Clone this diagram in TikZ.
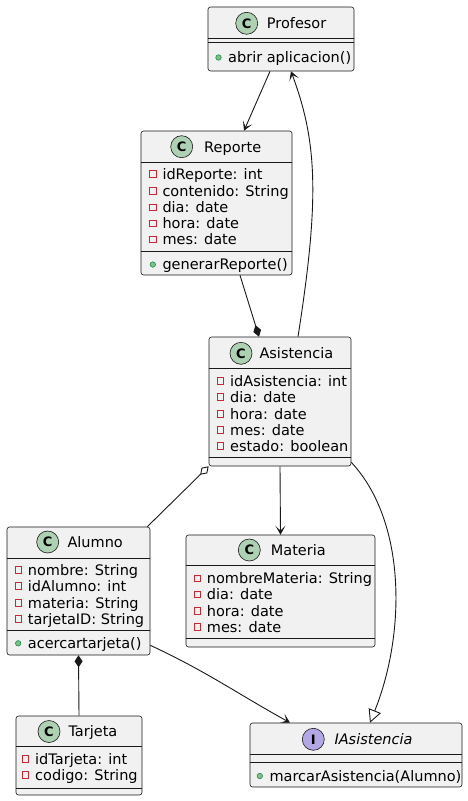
\documentclass[tikz,border=0pt]{standalone}
\usepackage{fontspec}
\setmainfont{DejaVu Sans}
\usetikzlibrary{arrows.meta}
\definecolor{linec}{HTML}{181818}
\definecolor{boxf}{HTML}{F1F1F1}
\definecolor{spotc}{HTML}{ADD1B2}
\definecolor{spoti}{HTML}{B4A7E5}
\definecolor{privc}{HTML}{C82930}
\definecolor{pubf}{HTML}{84BE84}
\definecolor{pubd}{HTML}{038048}
\tikzset{
  cls/.style={draw=linec, fill=boxf, rounded corners=2.5pt, line width=0.6pt, inner sep=0pt},
  spot/.style={circle, draw=linec, fill=spotc, line width=0.6pt, minimum size=22pt, inner sep=0pt, font=\fontsize{13}{13}\selectfont\bfseries},
  cname/.style={anchor=west, inner sep=0pt, text height=10.6pt, text depth=0pt, font=\fontsize{14.5}{16}\selectfont},
  member/.style={anchor=west, inner sep=0pt, text height=10.6pt, text depth=0pt, font=\fontsize{14.5}{16}\selectfont},
  privmark/.style={draw=privc, line width=0.7pt, rectangle, minimum size=6.5pt, inner sep=0pt, xshift=-6pt},
  pubmark/.style={circle, fill=pubf, draw=pubd, line width=0.5pt, minimum size=5.5pt, inner sep=0pt, xshift=-6.5pt},
  pv/.style={member, label={[privmark]left:{}}},
  pb/.style={member, label={[pubmark]left:{}}},
  link/.style={draw=linec, line width=0.9pt},
  dep/.style={link, -{Stealth[length=9pt, width=10pt, inset=5pt]}},
  comp/.style={link, -{Diamond[length=12pt, width=8pt]}},
  aggr/.style={link, -{Diamond[open, length=12pt, width=8pt, fill=white]}},
  impl/.style={link, -{Triangle[open, length=13pt, width=13pt, fill=white]}},
}
\begin{document}
\begin{tikzpicture}[x=1pt, y=-1pt]
\useasboundingbox (0,0) rectangle (468,801);
% Profesor
\node[cls, minimum width=146pt, minimum height=64pt] (prof) at (281,39) {};
\draw[linec, line width=0.6pt] ([yshift=-32pt]prof.north west) -- ([yshift=-32pt]prof.north east);
\draw[linec, line width=0.6pt] ([yshift=-36pt]prof.north west) -- ([yshift=-36pt]prof.north east);
\node[spot] (profc) at (246.7,23.3) {C};
\node[cname] (profn) at (266.7,23.3) {Profesor};
\node[pb] (prof1) at (228,57.5) {abrir aplicacion()};
% Reporte
\node[cls, minimum width=151pt, minimum height=144pt] (rep) at (216.5,203) {};
\draw[linec, line width=0.6pt] ([yshift=-32pt]rep.north west) -- ([yshift=-32pt]rep.north east);
\draw[linec, line width=0.6pt] ([yshift=-121pt]rep.north west) -- ([yshift=-121pt]rep.north east);
\node[spot] (repc) at (181.7,146.7) {C};
\node[cname] (repn) at (204,146.7) {Reporte};
\node[pv] (rep1) at (162.3,174) {idReporte: int};
\node[pv] (rep2) at (162.3,191) {contenido: String};
\node[pv] (rep3) at (162.3,207.5) {dia: date};
\node[pv] (rep4) at (162.3,223.5) {hora: date};
\node[pv] (rep5) at (162.3,239.5) {mes: date};
\node[pb] (rep6) at (162.3,264.5) {generarReporte()};
% Asistencia
\node[cls, minimum width=142pt, minimum height=129pt] (asis) at (280,401.5) {};
\draw[linec, line width=0.6pt] ([yshift=-32pt]asis.north west) -- ([yshift=-32pt]asis.north east);
\draw[linec, line width=0.6pt] ([yshift=-121pt]asis.north west) -- ([yshift=-121pt]asis.north east);
\node[spot] (asisc) at (241,353.3) {C};
\node[cname] (asisn) at (259.3,353.3) {Asistencia};
\node[pv] (asis1) at (230,381) {idAsistencia: int};
\node[pv] (asis2) at (230,397) {dia: date};
\node[pv] (asis3) at (230,413.7) {hora: date};
\node[pv] (asis4) at (230,430) {mes: date};
\node[pv] (asis5) at (230,446) {estado: boolean};
% Alumno
\node[cls, minimum width=143pt, minimum height=128pt] (alum) at (78.5,591) {};
\draw[linec, line width=0.6pt] ([yshift=-32pt]alum.north west) -- ([yshift=-32pt]alum.north east);
\draw[linec, line width=0.6pt] ([yshift=-104pt]alum.north west) -- ([yshift=-104pt]alum.north east);
\node[spot] (alumc) at (47.7,542) {C};
\node[cname] (alumn) at (67.3,542) {Alumno};
\node[pv] (alum1) at (27.7,570) {nombre: String};
\node[pv] (alum2) at (27.7,586) {idAlumno: int};
\node[pv] (alum3) at (27.7,602.7) {materia: String};
\node[pv] (alum4) at (27.7,618.7) {tarjetaID: String};
\node[pb] (alum5) at (27.7,643.3) {acercartarjeta()};
% Materia
\node[cls, minimum width=189pt, minimum height=112pt] (mat) at (280.5,591) {};
\draw[linec, line width=0.6pt] ([yshift=-31pt]mat.north west) -- ([yshift=-31pt]mat.north east);
\draw[linec, line width=0.6pt] ([yshift=-104pt]mat.north west) -- ([yshift=-104pt]mat.north east);
\node[spot] (matc) at (249.3,550) {C};
\node[cname] (matn) at (270.7,550) {Materia};
\node[pv] (mat1) at (206.7,578.3) {nombreMateria: String};
\node[pv] (mat2) at (206.7,594.3) {dia: date};
\node[pv] (mat3) at (206.7,611) {hora: date};
\node[pv] (mat4) at (206.7,626.7) {mes: date};
% Tarjeta
\node[cls, minimum width=126pt, minimum height=79pt] (tarj) at (79,755.5) {};
\draw[linec, line width=0.6pt] ([yshift=-31pt]tarj.north west) -- ([yshift=-31pt]tarj.north east);
\draw[linec, line width=0.6pt] ([yshift=-73pt]tarj.north west) -- ([yshift=-73pt]tarj.north east);
\node[spot] (tarjc) at (49,731.5) {C};
\node[cname] (tarjn) at (68.3,731.5) {Tarjeta};
\node[pv] (tarj1) at (35,759) {idTarjeta: int};
\node[pv] (tarj2) at (35,775) {codigo: String};
% IAsistencia
\node[cls, minimum width=212pt, minimum height=64pt] (iasis) at (356,755) {};
\draw[linec, line width=0.6pt] ([yshift=-32pt]iasis.north west) -- ([yshift=-32pt]iasis.north east);
\draw[linec, line width=0.6pt] ([yshift=-40pt]iasis.north west) -- ([yshift=-40pt]iasis.north east);
\node[spot, fill=spoti] (iasisc) at (313.3,739.3) {I};
\node[cname] (iasisn) at (334.3,739.3) {\itshape IAsistencia};
\node[pb] (iasis1) at (269.3,776) {marcarAsistencia(Alumno)};
% relaciones
\draw[dep] ([xshift=-11pt]prof.south) -- ([xshift=27.5pt]rep.north);
\draw[dep] ([xshift=18pt]asis.north) .. controls ([xshift=40pt, yshift=140pt]asis.north) and ([xshift=36pt, yshift=-70pt]prof.south) .. ([xshift=10pt]prof.south);
\draw[comp] ([xshift=23.5pt]rep.south) -- ([xshift=-21pt]asis.north);
\draw[aggr] ([xshift=-3pt]alum.north east) -- (asis.south west);
\draw[dep] (asis.south) -- (mat.north);
\draw[impl] ([yshift=4pt]asis.south east) .. controls ([xshift=55pt, yshift=-55pt]asis.south east) and ([xshift=50pt, yshift=90pt]iasis.north) .. ([xshift=14pt]iasis.north);
\draw[dep] ([yshift=10pt]alum.south east) to[out=-25, in=151] ([xshift=-66pt]iasis.north);
\draw[comp] (tarj.north) -- (alum.south);
\end{tikzpicture}
\end{document}
